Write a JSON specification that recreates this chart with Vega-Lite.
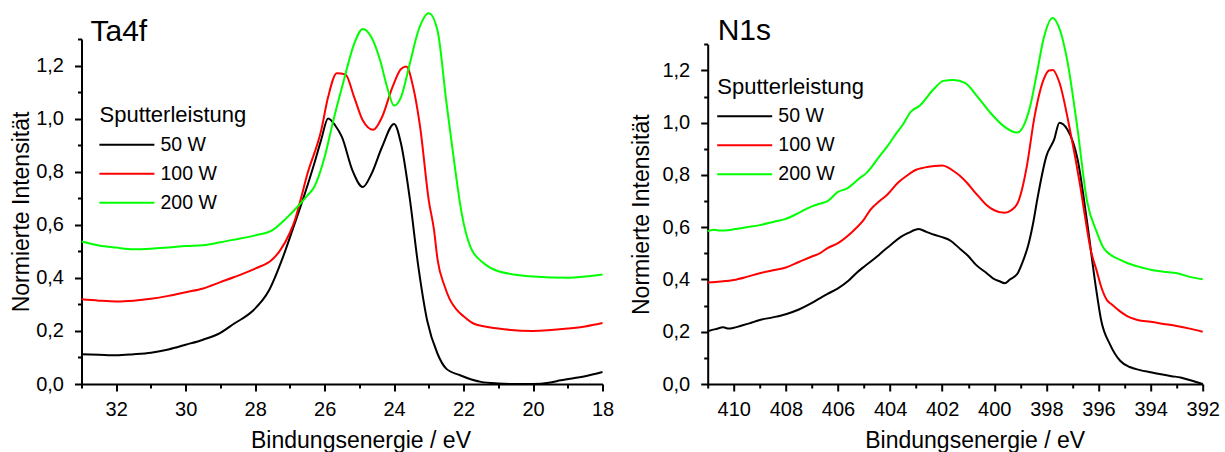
{
  "$schema": "https://vega.github.io/schema/vega-lite/v6.json",
  "padding": {"left": 10.5, "top": 9, "right": 0, "bottom": 0},
  "background": "white",
  "bounds": "flush",
  "spacing": 105.2,
  "config": {
    "view": {"stroke": null},
    "font": "Liberation Sans",
    "axis": {"domainColor": "black", "domainWidth": 2, "tickColor": "black", "tickWidth": 2, "labelColor": "black", "titleColor": "black", "grid": false, "labelFontSize": 20, "titleFontSize": 23, "titleFontWeight": "normal", "labelFont": "Liberation Sans", "titleFont": "Liberation Sans", "labelOverlap": false, "labelBound": false, "labelFlush": false},
    "legend": {"titleFontSize": 22, "titleFontWeight": "normal", "titleFont": "Liberation Sans", "labelFont": "Liberation Sans", "labelFontSize": 19.5, "titleColor": "black", "labelColor": "black", "symbolType": "M-1.1,0H3.9", "symbolSize": 484, "symbolStrokeWidth": 2, "labelOffset": 37, "rowPadding": 7, "titlePadding": 5.7, "padding": 0},
    "title": {"fontSize": 30, "fontWeight": "normal", "anchor": "start", "frame": "group", "color": "black", "font": "Liberation Sans"}
  },
  "resolve": {"scale": {"color": "independent"}},
  "datasets": {
    "ta4f": [
      {"s":"50 W","e":33,"i":0.112},{"s":"50 W","e":32.5,"i":0.110},{"s":"50 W","e":32,"i":0.108},{"s":"50 W","e":31.5,"i":0.112},{"s":"50 W","e":31,"i":0.118},{"s":"50 W","e":30.5,"i":0.130},{"s":"50 W","e":30,"i":0.148},{"s":"50 W","e":29.5,"i":0.167},{"s":"50 W","e":29,"i":0.193},{"s":"50 W","e":28.6,"i":0.228},{"s":"50 W","e":28.1,"i":0.272},{"s":"50 W","e":27.6,"i":0.353},{"s":"50 W","e":27.2,"i":0.478},{"s":"50 W","e":26.9,"i":0.59},{"s":"50 W","e":26.7,"i":0.666},{"s":"50 W","e":26.3,"i":0.83},{"s":"50 W","e":26.1,"i":0.92},{"s":"50 W","e":25.9,"i":1.0},{"s":"50 W","e":25.7,"i":0.975},{"s":"50 W","e":25.5,"i":0.93},{"s":"50 W","e":25.2,"i":0.805},{"s":"50 W","e":24.9,"i":0.742},{"s":"50 W","e":24.65,"i":0.792},{"s":"50 W","e":24.35,"i":0.892},{"s":"50 W","e":24.0,"i":0.98},{"s":"50 W","e":23.8,"i":0.905},{"s":"50 W","e":23.55,"i":0.70},{"s":"50 W","e":23.3,"i":0.44},{"s":"50 W","e":23.05,"i":0.24},{"s":"50 W","e":22.75,"i":0.114},{"s":"50 W","e":22.5,"i":0.058},{"s":"50 W","e":22.1,"i":0.033},{"s":"50 W","e":21.5,"i":0.008},{"s":"50 W","e":21,"i":0.002},{"s":"50 W","e":20.5,"i":0.0},{"s":"50 W","e":20,"i":0.0},{"s":"50 W","e":19.5,"i":0.006},{"s":"50 W","e":19.2,"i":0.014},{"s":"50 W","e":18.5,"i":0.029},{"s":"50 W","e":18,"i":0.045},
      {"s":"100 W","e":33,"i":0.319},{"s":"100 W","e":32.5,"i":0.314},{"s":"100 W","e":32,"i":0.311},{"s":"100 W","e":31.5,"i":0.314},{"s":"100 W","e":31,"i":0.321},{"s":"100 W","e":30.5,"i":0.332},{"s":"100 W","e":30,"i":0.346},{"s":"100 W","e":29.5,"i":0.36},{"s":"100 W","e":29,"i":0.384},{"s":"100 W","e":28.6,"i":0.403},{"s":"100 W","e":28,"i":0.435},{"s":"100 W","e":27.5,"i":0.47},{"s":"100 W","e":27.3,"i":0.50},{"s":"100 W","e":27.0,"i":0.57},{"s":"100 W","e":26.85,"i":0.62},{"s":"100 W","e":26.7,"i":0.69},{"s":"100 W","e":26.5,"i":0.79},{"s":"100 W","e":26.1,"i":0.955},{"s":"100 W","e":25.9,"i":1.081},{"s":"100 W","e":25.65,"i":1.171},{"s":"100 W","e":25.4,"i":1.166},{"s":"100 W","e":25.15,"i":1.081},{"s":"100 W","e":24.9,"i":0.993},{"s":"100 W","e":24.6,"i":0.958},{"s":"100 W","e":24.35,"i":1.005},{"s":"100 W","e":24.05,"i":1.118},{"s":"100 W","e":23.8,"i":1.187},{"s":"100 W","e":23.65,"i":1.196},{"s":"100 W","e":23.45,"i":1.118},{"s":"100 W","e":23.25,"i":0.968},{"s":"100 W","e":23.0,"i":0.69},{"s":"100 W","e":22.85,"i":0.58},{"s":"100 W","e":22.75,"i":0.47},{"s":"100 W","e":22.55,"i":0.37},{"s":"100 W","e":22.4,"i":0.32},{"s":"100 W","e":22.2,"i":0.28},{"s":"100 W","e":22.0,"i":0.255},{"s":"100 W","e":21.7,"i":0.227},{"s":"100 W","e":21,"i":0.209},{"s":"100 W","e":20,"i":0.20},{"s":"100 W","e":19,"i":0.209},{"s":"100 W","e":18.5,"i":0.217},{"s":"100 W","e":18,"i":0.23},
      {"s":"200 W","e":33,"i":0.537},{"s":"200 W","e":32.5,"i":0.522},{"s":"200 W","e":32,"i":0.514},{"s":"200 W","e":31.5,"i":0.508},{"s":"200 W","e":31,"i":0.51},{"s":"200 W","e":30.5,"i":0.514},{"s":"200 W","e":30,"i":0.52},{"s":"200 W","e":29.5,"i":0.523},{"s":"200 W","e":29,"i":0.534},{"s":"200 W","e":28.6,"i":0.544},{"s":"200 W","e":28,"i":0.56},{"s":"200 W","e":27.5,"i":0.58},{"s":"200 W","e":27.1,"i":0.625},{"s":"200 W","e":26.8,"i":0.665},{"s":"200 W","e":26.5,"i":0.71},{"s":"200 W","e":26.3,"i":0.742},{"s":"200 W","e":26.0,"i":0.855},{"s":"200 W","e":25.75,"i":0.993},{"s":"200 W","e":25.45,"i":1.143},{"s":"200 W","e":25.15,"i":1.282},{"s":"200 W","e":24.9,"i":1.338},{"s":"200 W","e":24.65,"i":1.306},{"s":"200 W","e":24.4,"i":1.219},{"s":"200 W","e":24.2,"i":1.118},{"s":"200 W","e":24.0,"i":1.049},{"s":"200 W","e":23.8,"i":1.081},{"s":"200 W","e":23.55,"i":1.206},{"s":"200 W","e":23.3,"i":1.332},{"s":"200 W","e":23.0,"i":1.397},{"s":"200 W","e":22.75,"i":1.332},{"s":"200 W","e":22.5,"i":1.068},{"s":"200 W","e":22.25,"i":0.817},{"s":"200 W","e":22.05,"i":0.64},{"s":"200 W","e":21.8,"i":0.516},{"s":"200 W","e":21.4,"i":0.453},{"s":"200 W","e":21,"i":0.425},{"s":"200 W","e":20,"i":0.405},{"s":"200 W","e":19,"i":0.40},{"s":"200 W","e":18.5,"i":0.405},{"s":"200 W","e":18,"i":0.413}
    ],
    "n1s": [
      {"s":"50 W","e":411,"i":0.202},{"s":"50 W","e":410.7,"i":0.21},{"s":"50 W","e":410.4,"i":0.217},{"s":"50 W","e":410.2,"i":0.212},{"s":"50 W","e":410,"i":0.215},{"s":"50 W","e":409.75,"i":0.222},{"s":"50 W","e":409.4,"i":0.232},{"s":"50 W","e":409,"i":0.245},{"s":"50 W","e":408.5,"i":0.255},{"s":"50 W","e":408,"i":0.267},{"s":"50 W","e":407.5,"i":0.285},{"s":"50 W","e":407,"i":0.31},{"s":"50 W","e":406.7,"i":0.328},{"s":"50 W","e":406.4,"i":0.345},{"s":"50 W","e":406,"i":0.366},{"s":"50 W","e":405.6,"i":0.395},{"s":"50 W","e":405.3,"i":0.424},{"s":"50 W","e":405,"i":0.449},{"s":"50 W","e":404.5,"i":0.488},{"s":"50 W","e":404.25,"i":0.51},{"s":"50 W","e":404,"i":0.53},{"s":"50 W","e":403.6,"i":0.562},{"s":"50 W","e":403.3,"i":0.578},{"s":"50 W","e":402.9,"i":0.593},{"s":"50 W","e":402.6,"i":0.582},{"s":"50 W","e":402.3,"i":0.571},{"s":"50 W","e":402,"i":0.562},{"s":"50 W","e":401.7,"i":0.55},{"s":"50 W","e":401.3,"i":0.516},{"s":"50 W","e":401,"i":0.49},{"s":"50 W","e":400.7,"i":0.456},{"s":"50 W","e":400.3,"i":0.425},{"s":"50 W","e":400,"i":0.401},{"s":"50 W","e":399.8,"i":0.393},{"s":"50 W","e":399.6,"i":0.386},{"s":"50 W","e":399.4,"i":0.40},{"s":"50 W","e":399.1,"i":0.424},{"s":"50 W","e":398.9,"i":0.47},{"s":"50 W","e":398.7,"i":0.53},{"s":"50 W","e":398.5,"i":0.62},{"s":"50 W","e":398.35,"i":0.706},{"s":"50 W","e":398,"i":0.872},{"s":"50 W","e":397.7,"i":0.936},{"s":"50 W","e":397.5,"i":1.0},{"s":"50 W","e":397.2,"i":0.975},{"s":"50 W","e":396.8,"i":0.859},{"s":"50 W","e":396.45,"i":0.629},{"s":"50 W","e":396.1,"i":0.37},{"s":"50 W","e":395.9,"i":0.245},{"s":"50 W","e":395.55,"i":0.15},{"s":"50 W","e":395.16,"i":0.088},{"s":"50 W","e":394.8,"i":0.065},{"s":"50 W","e":394.4,"i":0.053},{"s":"50 W","e":394,"i":0.045},{"s":"50 W","e":393.6,"i":0.037},{"s":"50 W","e":393.2,"i":0.03},{"s":"50 W","e":392.85,"i":0.025},{"s":"50 W","e":392.5,"i":0.015},{"s":"50 W","e":392,"i":0.0},
      {"s":"100 W","e":411,"i":0.388},{"s":"100 W","e":410.5,"i":0.392},{"s":"100 W","e":410,"i":0.398},{"s":"100 W","e":409.5,"i":0.41},{"s":"100 W","e":409,"i":0.424},{"s":"100 W","e":408.5,"i":0.435},{"s":"100 W","e":408,"i":0.446},{"s":"100 W","e":407.5,"i":0.467},{"s":"100 W","e":407,"i":0.488},{"s":"100 W","e":406.7,"i":0.50},{"s":"100 W","e":406.4,"i":0.52},{"s":"100 W","e":406,"i":0.539},{"s":"100 W","e":405.5,"i":0.578},{"s":"100 W","e":405,"i":0.63},{"s":"100 W","e":404.75,"i":0.667},{"s":"100 W","e":404.4,"i":0.70},{"s":"100 W","e":404.1,"i":0.725},{"s":"100 W","e":403.7,"i":0.77},{"s":"100 W","e":403.36,"i":0.797},{"s":"100 W","e":403,"i":0.82},{"s":"100 W","e":402.7,"i":0.828},{"s":"100 W","e":402.3,"i":0.834},{"s":"100 W","e":402,"i":0.836},{"s":"100 W","e":401.8,"i":0.83},{"s":"100 W","e":401.55,"i":0.814},{"s":"100 W","e":401.3,"i":0.795},{"s":"100 W","e":401.05,"i":0.77},{"s":"100 W","e":400.8,"i":0.74},{"s":"100 W","e":400.55,"i":0.712},{"s":"100 W","e":400.3,"i":0.685},{"s":"100 W","e":400,"i":0.665},{"s":"100 W","e":399.6,"i":0.655},{"s":"100 W","e":399.35,"i":0.665},{"s":"100 W","e":399.1,"i":0.693},{"s":"100 W","e":398.9,"i":0.76},{"s":"100 W","e":398.75,"i":0.834},{"s":"100 W","e":398.45,"i":1.026},{"s":"100 W","e":398.1,"i":1.167},{"s":"100 W","e":397.9,"i":1.20},{"s":"100 W","e":397.75,"i":1.202},{"s":"100 W","e":397.5,"i":1.154},{"s":"100 W","e":397.1,"i":0.975},{"s":"100 W","e":396.7,"i":0.757},{"s":"100 W","e":396.5,"i":0.63},{"s":"100 W","e":396.3,"i":0.514},{"s":"100 W","e":396.06,"i":0.43},{"s":"100 W","e":395.9,"i":0.373},{"s":"100 W","e":395.67,"i":0.32},{"s":"100 W","e":395.5,"i":0.305},{"s":"100 W","e":395.16,"i":0.277},{"s":"100 W","e":394.9,"i":0.26},{"s":"100 W","e":394.5,"i":0.245},{"s":"100 W","e":394,"i":0.238},{"s":"100 W","e":393.5,"i":0.23},{"s":"100 W","e":393,"i":0.222},{"s":"100 W","e":392.5,"i":0.212},{"s":"100 W","e":392,"i":0.20},
      {"s":"200 W","e":411,"i":0.584},{"s":"200 W","e":410.78,"i":0.59},{"s":"200 W","e":410.5,"i":0.587},{"s":"200 W","e":410,"i":0.592},{"s":"200 W","e":409.5,"i":0.60},{"s":"200 W","e":409,"i":0.608},{"s":"200 W","e":408.5,"i":0.62},{"s":"200 W","e":408,"i":0.632},{"s":"200 W","e":407.5,"i":0.655},{"s":"200 W","e":407,"i":0.68},{"s":"200 W","e":406.7,"i":0.69},{"s":"200 W","e":406.4,"i":0.70},{"s":"200 W","e":406,"i":0.735},{"s":"200 W","e":405.66,"i":0.748},{"s":"200 W","e":405.15,"i":0.789},{"s":"200 W","e":404.9,"i":0.808},{"s":"200 W","e":404.4,"i":0.872},{"s":"200 W","e":404.1,"i":0.91},{"s":"200 W","e":403.74,"i":0.962},{"s":"200 W","e":403.5,"i":0.994},{"s":"200 W","e":403.23,"i":1.039},{"s":"200 W","e":402.84,"i":1.067},{"s":"200 W","e":402.33,"i":1.128},{"s":"200 W","e":401.95,"i":1.160},{"s":"200 W","e":401.56,"i":1.163},{"s":"200 W","e":401.11,"i":1.151},{"s":"200 W","e":400.67,"i":1.103},{"s":"200 W","e":400.16,"i":1.039},{"s":"200 W","e":399.64,"i":0.987},{"s":"200 W","e":399.13,"i":0.962},{"s":"200 W","e":398.88,"i":0.987},{"s":"200 W","e":398.62,"i":1.064},{"s":"200 W","e":398.36,"i":1.192},{"s":"200 W","e":398.11,"i":1.32},{"s":"200 W","e":397.76,"i":1.401},{"s":"200 W","e":397.47,"i":1.352},{"s":"200 W","e":397.21,"i":1.244},{"s":"200 W","e":396.82,"i":0.987},{"s":"200 W","e":396.44,"i":0.70},{"s":"200 W","e":396.06,"i":0.58},{"s":"200 W","e":395.8,"i":0.52},{"s":"200 W","e":395.67,"i":0.505},{"s":"200 W","e":395.16,"i":0.475},{"s":"200 W","e":394.9,"i":0.463},{"s":"200 W","e":394.5,"i":0.45},{"s":"200 W","e":394,"i":0.437},{"s":"200 W","e":393.5,"i":0.43},{"s":"200 W","e":392.98,"i":0.424},{"s":"200 W","e":392.5,"i":0.41},{"s":"200 W","e":392,"i":0.401}
    ]
  },
  "hconcat": [
    {
      "width": 521,
      "height": 345,
      "data": {"name": "ta4f"},
      "title": {"text": "Ta4f", "dx": 9, "offset": -37.7},
      "mark": {"type": "line", "strokeWidth": 2, "interpolate": "monotone"},
      "encoding": {
        "x": {"field": "e", "type": "quantitative", "scale": {"domain": [18, 33], "reverse": true, "nice": false, "zero": false},
          "axis": {"title": "Bindungsenergie / eV", "values": [18,19,20,21,22,23,24,25,26,27,28,29,30,31,32,33], "labelExpr": "datum.value % 2 == 0 ? datum.label : ''", "tickSize": {"condition": {"test": "datum.value % 2 != 0", "value": 4}, "value": 7}, "labelPadding": 8, "titlePadding": 10, "titleX": 279}},
        "y": {"field": "i", "type": "quantitative", "scale": {"domain": [0, 1.3], "nice": false, "zero": true},
          "axis": {"title": "Normierte Intensität", "values": [0,0.1,0.2,0.3,0.4,0.5,0.6,0.7,0.8,0.9,1.0,1.1,1.2,1.3], "labelExpr": "abs(datum.value*5 - round(datum.value*5)) > 0.01 ? '' : replace(format(datum.value, '.1f'), '.', ',')", "tickSize": {"condition": {"test": "abs(datum.value*5 - round(datum.value*5)) > 0.01", "value": 4}, "value": 7}, "labelPadding": 11, "titlePadding": 2}},
        "color": {"field": "s", "type": "nominal", "scale": {"domain": ["50 W", "100 W", "200 W"], "range": ["#000000", "#ff0000", "#00ff00"]},
          "legend": {"title": "Sputterleistung", "orient": "none", "legendX": 18, "legendY": 66}}
      }
    },
    {
      "width": 495,
      "height": 345,
      "data": {"name": "n1s"},
      "title": {"text": "N1s", "dx": 10, "offset": -32.3},
      "mark": {"type": "line", "strokeWidth": 2, "interpolate": "monotone"},
      "encoding": {
        "x": {"field": "e", "type": "quantitative", "scale": {"domain": [392, 411], "reverse": true, "nice": false, "zero": false},
          "axis": {"title": "Bindungsenergie / eV", "values": [392,393,394,395,396,397,398,399,400,401,402,403,404,405,406,407,408,409,410,411], "labelExpr": "datum.value % 2 == 0 ? datum.label : ''", "tickSize": {"condition": {"test": "datum.value % 2 != 0", "value": 4}, "value": 7}, "labelPadding": 8, "titlePadding": 10, "titleX": 267}},
        "y": {"field": "i", "type": "quantitative", "scale": {"domain": [0, 1.3], "nice": false, "zero": true, "range": [345, 5.3]},
          "axis": {"title": "Normierte Intensität", "values": [0,0.1,0.2,0.3,0.4,0.5,0.6,0.7,0.8,0.9,1.0,1.1,1.2,1.3], "labelExpr": "abs(datum.value*5 - round(datum.value*5)) > 0.01 ? '' : replace(format(datum.value, '.1f'), '.', ',')", "tickSize": {"condition": {"test": "abs(datum.value*5 - round(datum.value*5)) > 0.01", "value": 4}, "value": 7}, "labelPadding": 11, "titlePadding": 8}},
        "color": {"field": "s", "type": "nominal", "scale": {"domain": ["50 W", "100 W", "200 W"], "range": ["#000000", "#ff0000", "#00ff00"]},
          "legend": {"title": "Sputterleistung", "orient": "none", "legendX": 9.6, "legendY": 37.5}}
      }
    }
  ]
}
